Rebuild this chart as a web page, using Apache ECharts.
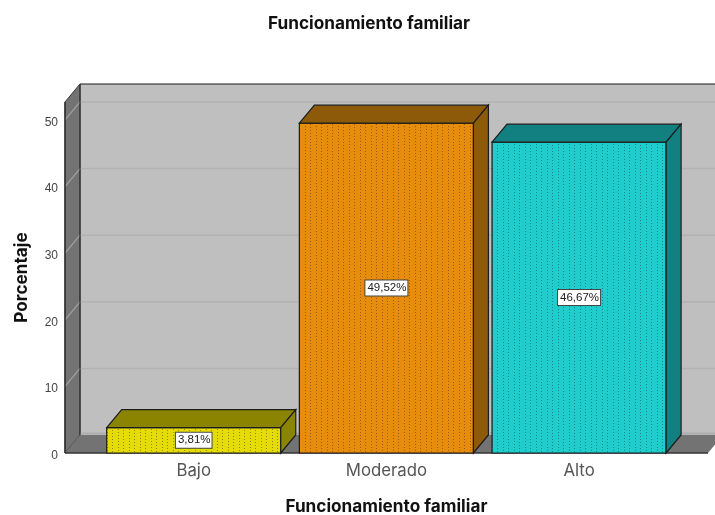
<!DOCTYPE html>
<html><head><meta charset="utf-8">
<style>html,body{margin:0;padding:0;background:#fff}#c{width:715px;height:515px}</style>
<script src="https://cdn.jsdelivr.net/npm/echarts@6/dist/echarts.min.js"></script>
</head><body><div id="c"></div>
<script>
const categories = ['Bajo', 'Moderado', 'Alto'];
const values = [3.81, 49.52, 46.67];
const gridTicks = [10, 20, 30, 40, 50];
const frontColors = ['#e6dc05', '#e88c0c', '#1fcdcd'];
const sideColors = ['#8a8400', '#8c5a08', '#128080'];
const dotColors = ['#8f8a10', '#96600c', '#128a8c'];
const DX = 15, DY = 18, LINE = '#1c1c1c', AXIS_OFFSET = 32.4;

function dotted(bg, dot) {
  const c = document.createElement('canvas');
  c.width = 11; c.height = 6;
  const g = c.getContext('2d');
  g.fillStyle = bg; g.fillRect(0, 0, 11, 6);
  g.fillStyle = dot;
  g.fillRect(2, 1, 1, 1); g.fillRect(2, 4, 1, 1);
  g.fillRect(8, 0, 1, 1); g.fillRect(8, 3, 1, 1);
  return { image: c, repeat: 'repeat' };
}
const patterns = frontColors.map((c, i) => dotted(c, dotColors[i]));
const poly = (pts, fill, stroke, w) => ({
  type: 'polygon', shape: { points: pts },
  style: { fill: fill, stroke: stroke || 'none', lineWidth: w === undefined ? 1 : w }
});
const seg = (a, b, color, w) => ({
  type: 'line', shape: { x1: a[0], y1: a[1], x2: b[0], y2: b[1] },
  style: { stroke: color, lineWidth: w }
});

const chart = echarts.init(document.getElementById('c'), null, { renderer: 'canvas' });
chart.setOption({
  animation: false,
  backgroundColor: '#ffffff',
  title: {
    text: 'Funcionamiento familiar', left: 364, top: 10, textAlign: 'center',
    textStyle: { fontFamily: 'Inter', fontSize: 17.2, fontWeight: 'bold', color: '#111' }
  },
  grid: { left: 97.4, right: 39.6, top: 102, bottom: 62, outerBoundsMode: 'none' },
  xAxis: {
    type: 'category', data: categories,
    name: 'Funcionamiento familiar', nameLocation: 'middle', nameGap: 45,
    nameTextStyle: { fontFamily: 'Inter', fontSize: 17.2, fontWeight: 'bold', color: '#111' },
    axisLine: { show: false }, axisTick: { show: false },
    axisLabel: { fontFamily: 'Inter', fontSize: 16.8, color: '#555', margin: 9 }
  },
  yAxis: {
    type: 'value', min: 0, max: 52.7, interval: 10, offset: AXIS_OFFSET,
    name: 'Porcentaje', nameLocation: 'middle', nameGap: 35,
    nameTextStyle: { fontFamily: 'Inter', fontSize: 17.2, fontWeight: 'bold', color: '#111' },
    axisLine: { show: false }, axisTick: { show: false }, splitLine: { show: false },
    axisLabel: {
      margin: 7, showMaxLabel: false, formatter: '{t|{value}}',
      rich: { t: { fontFamily: 'Liberation Sans', fontSize: 12, color: '#444', padding: [5, 0, 0, 0] } }
    }
  },
  series: [
    {
      // Box: back wall, side wall, floor and gridlines
      type: 'custom', silent: true, clip: false, z: 1,
      data: [[0]],
      renderItem: function (p, api) {
        const y0 = api.coord([0, 0])[1];
        const yTop = p.coordSys.y;
        const L = p.coordSys.x - AXIS_OFFSET, R = 760;
        const kids = [
          poly([[L + DX, yTop - DY], [R, yTop - DY], [R, y0 - DY], [L + DX, y0 - DY]], '#bfbfbf'),
          poly([[L, yTop], [L + DX, yTop - DY], [L + DX, y0 - DY], [L, y0]], '#737373', '#333', 1),
          seg([L + DX, y0 - DY - 1.5], [R, y0 - DY - 1.5], '#adadad', 2),
          poly([[L, y0], [L + DX, y0 - DY], [723, y0 - DY], [708, y0]], '#737373')
        ];
        gridTicks.forEach(function (v) {
          const y = api.coord([0, v])[1];
          kids.push(seg([L, y], [L + DX, y - DY], '#a3a3a3', 1.2));
          kids.push(seg([L + DX, y - DY], [R, y - DY], '#b2b2b2', 1.5));
        });
        kids.push(seg([L + DX, yTop - DY], [R, yTop - DY], LINE, 1.2));
        kids.push(seg([L + DX, yTop - DY], [L + DX, y0 - DY], '#333', 1.2));
        kids.push(seg([L, yTop], [L, y0], '#333', 1.5));
        kids.push(seg([L, y0], [708, y0], '#333', 1.5));
        return { type: 'group', children: kids };
      }
    },
    {
      type: 'custom', clip: false, z: 2,
      encode: { x: 0, y: 1 },
      data: values.map((v, i) => [i, v]),
      renderItem: function (p, api) {
        const i = api.value(0), v = api.value(1);
        const top = api.coord([i, v]), base = api.coord([i, 0]);
        const hw = api.size([1, 0])[0] * 0.4517;
        const l = top[0] - hw, r = top[0] + hw, t = top[1], b = base[1];
        const mid = api.coord([i, v / 2])[1];
        return {
          type: 'group',
          children: [
            { type: 'rect', shape: { x: l, y: t, width: r - l, height: b - t },
              style: { fill: patterns[i], stroke: LINE, lineWidth: 1.2 } },
            poly([[l, t], [l + DX, t - DY], [r + DX, t - DY], [r, t]], sideColors[i], LINE, 1.2),
            poly([[r, t], [r + DX, t - DY], [r + DX, b - DY], [r, b]], sideColors[i], LINE, 1.2),
            { type: 'text', x: top[0], y: mid,
              style: {
                text: v.toFixed(2).replace('.', ',') + '%',
                fontFamily: 'Liberation Sans', fontSize: 11.5, fill: '#222',
                align: 'center', verticalAlign: 'middle',
                backgroundColor: '#fff', borderColor: '#444', borderWidth: 1,
                padding: [2, 1, 1, 2]
              } }
          ]
        };
      }
    }
  ]
});
</script></body></html>
